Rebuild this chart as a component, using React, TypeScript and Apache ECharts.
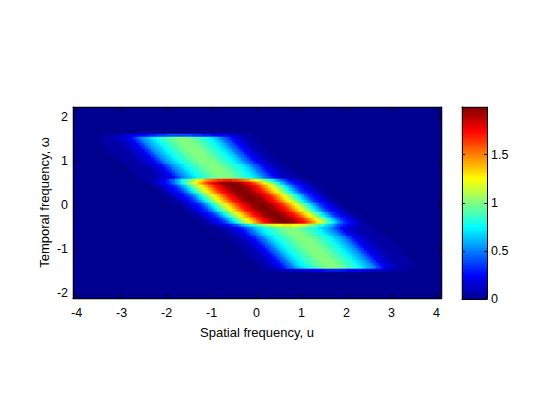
import React, { useEffect, useRef } from "react";
import * as echarts from "echarts";

// Spectrum values. One character per cell: 0-9a-zA-E, in steps of 0.05.
// Blank stretches of a row are written as runs of "0".
const LEVEL_CHARS = "0123456789abcdefghijklmnopqrstuvwxyzABCDE";
const LEVEL_STEP = 0.05;
const COLUMN_COUNT = 123;
const z = (n: number) => "0".repeat(n);
const spectrumRows = [
  "", "", "", "", "", "", "", "", "",
  z(10) + "1111222334445556667778888888887776665554443322211100000",
  z(8) + "11111122334578abcdefghhijjkkkkkjjihhgfedca9865432211100000",
  z(9) + "11111122334578abcdefghhijjkkkkkjjihhgfedca9865432211100000",
  z(10) + "11111122334578abcdefghhijjkkkkkjjihhgfedca9865432211100000",
  z(11) + "11111122334578abcdefghhijjkkkkkjjihhgfedca9865432211100000",
  z(12) + "11111122334578abcdefghhijjkkkkkjjihhgfedca9865432211100000",
  z(13) + "11111122334578abcdefghhijjkkkkkjjihhgfedca9865432211100000",
  z(14) + "11111122334578abcdefghhijjkkkkkjjihhgfedca9865432211100000",
  z(15) + "11111122334578abcdefghhijjkkkkkjjihhgfedca9865432211100000",
  z(16) + "11111122334578abcdefghhijjkkkkkjjihhgfedca9865432211100000",
  z(18) + "11111122334578abcdefghhijjkkkkkjjihhgfedca9865432211100000",
  z(19) + "11111122334578abcdefghhijjkkkkkjjihhgfedca9865432211100000",
  z(20) + "11111122334578abcdefghhijjkkkkkjjihhgfedca9865432211100000",
  z(21) + "11111122334578abcdefghhijjkkkkkjjihhgfedca9865432211100000",
  z(22) + "11111122334578abcdefghhijjkkkkkjjihhgfedca9865432211100000",
  z(24) + "1123345689bdfhjkmoqrtuvwxxyyyxxwvutrqomkjhfdb986543321100",
  z(25) + "112345679bdfikmoqsuwyzACDDEEEDDCAzywusqomkifdb97654321100",
  z(27) + "112345679bdfikmoqsuwyzACDDEEEDDCAzywusqomkifdb97654321100",
  z(28) + "112345679bdfikmoqsuwyzACDDEEEDDCAzywusqomkifdb97654321100",
  z(29) + "112345679bdfikmoqsuwyzACDDEEEDDCAzywusqomkifdb97654321100",
  z(31) + "112345679bdfikmoqsuwyzACDDEEEDDCAzywusqomkifdb97654321100",
  z(32) + "112345679bdfikmoqsuwyzACDDEEEDDCAzywusqomkifdb97654321100",
  z(33) + "112345679bdfikmoqsuwyzACDDEEEDDCAzywusqomkifdb97654321100",
  z(35) + "112345679bdfikmoqsuwyzACDDEEEDDCAzywusqomkifdb97654321100",
  z(36) + "112345679bdfikmoqsuwyzACDDEEEDDCAzywusqomkifdb97654321100",
  z(37) + "112345679bdfikmoqsuwyzACDDEEEDDCAzywusqomkifdb97654321100",
  z(39) + "112345679bdfikmoqsuwyzACDDEEEDDCAzywusqomkifdb97654321100",
  z(40) + "112345679bdfikmoqsuwyzACDDEEEDDCAzywusqomkifdb97654321100",
  z(42) + "112345679bdfikmoqsuwyzACDDEEEDDCAzywusqomkifdb97654321100",
  z(43) + "112345679bdfikmoqsuwyzACDDEEEDDCAzywusqomkifdb97654321100",
  z(44) + "11123345678acdeghiklmnnpppqqqpppnnmlkihgedca8765433211100",
  z(48) + "11122345689acdefghhijjkkkkkjjihhgfedcba875433221111110",
  z(49) + "11122345689acdefghhijjkkkkkjjihhgfedcba875433221111110",
  z(50) + "11122345689acdefghhijjkkkkkjjihhgfedcba875433221111110",
  z(52) + "11122345689acdefghhijjkkkkkjjihhgfedcba875433221111110",
  z(53) + "11122345689acdefghhijjkkkkkjjihhgfedcba875433221111110",
  z(54) + "11122345689acdefghhijjkkkkkjjihhgfedcba875433221111110",
  z(55) + "11122345689acdefghhijjkkkkkjjihhgfedcba875433221111110",
  z(56) + "11122345689acdefghhijjkkkkkjjihhgfedcba875433221111110",
  z(57) + "11122345689acdefghhijjkkkkkjjihhgfedcba875433221111110",
  z(58) + "11122345689acdefghhijjkkkkkjjihhgfedcba875433221111110",
  z(59) + "11122345689acdefghhijjkkkkkjjihhgfedcba875433221111110",
  z(60) + "11122345689acdefghhijjkkkkkjjihhgfedcba875433221111110",
  z(61) + "11122345689acdefghhijjkkkkkjjihhgfedcba875433221111110",
  z(62) + "11122345689acdefghhijjkkkkkjjihhgfedcba875433221111110",
  z(63) + "111111222333344445555666666655554444333322211111100000",
  "", "", "", "", "", "", "", "", "",
];

const colorbarLevels = [
  0.02, 0.05, 0.08, 0.11, 0.14, 0.17, 0.2, 0.23, 0.27, 0.3, 0.33, 0.36, 0.39, 0.42, 0.45, 0.48,
  0.51, 0.55, 0.58, 0.61, 0.64, 0.67, 0.7, 0.73, 0.76, 0.8, 0.83, 0.86, 0.89, 0.92, 0.95, 0.98,
  1.01, 1.04, 1.08, 1.11, 1.14, 1.17, 1.2, 1.23, 1.26, 1.29, 1.33, 1.36, 1.39, 1.42, 1.45, 1.48,
  1.51, 1.54, 1.57, 1.61, 1.64, 1.67, 1.7, 1.73, 1.76, 1.79, 1.82, 1.86, 1.89, 1.92, 1.95, 1.98,
];

const xTicks = [-4, -3, -2, -1, 0, 1, 2, 3, 4];
const yTicks = [-2, -1, 0, 1, 2];
const colorbarTicks = [0, 0.5, 1, 1.5];
const jetColors = ["#00008f", "#0000ff", "#0080ff", "#00ffff", "#80ff80", "#ffff00", "#ff8000", "#ff0000", "#800000"];
const X_TITLE = "Spatial frequency, u";
const Y_TITLE = "Temporal frequency, \u03c9";

const FONT = "'Liberation Sans', Arial, sans-serif";
const lineStyle = { color: "#000", width: 1 };
const labelStyle = { color: "#000", fontFamily: FONT, fontSize: 12.5 };
const titleStyle = { color: "#000", fontFamily: FONT, fontSize: 13 };

export default function App() {
  const ref = useRef<HTMLDivElement>(null);
  useEffect(() => {
    const chart = echarts.init(ref.current!, undefined, { renderer: "svg" });
    const cells: number[][] = [];
    spectrumRows.forEach((row, r) => {
      const full = row.padEnd(COLUMN_COUNT, "0");
      for (let c = 0; c < COLUMN_COUNT; c++) {
        cells.push([c, r, LEVEL_CHARS.indexOf(full[c]) * LEVEL_STEP]);
      }
    });
    const colIndex = Array.from({ length: COLUMN_COUNT }, (_, i) => String(i));
    const rowIndex = spectrumRows.map((_, i) => String(i));
    const cellRect = { left: 73, top: 107, width: 369, height: 192 };
    const frameRect = { left: 73, top: 107, width: 368, height: 191 };
    const barRect = { left: 462, top: 107, width: 25, height: 192 };
    const hidden = { show: false };
    const frame = { show: true, onZero: false, lineStyle };

    chart.setOption({
      animation: false,
      backgroundColor: "#fff",
      grid: [
        { ...cellRect, containLabel: false },
        { ...frameRect, containLabel: false },
        { ...barRect, containLabel: false },
        { ...barRect, containLabel: false },
      ],
      visualMap: {
        show: false,
        type: "continuous",
        min: 0,
        max: 2,
        dimension: 2,
        seriesIndex: [0, 1],
        inRange: { color: jetColors },
      },
      xAxis: [
        { gridIndex: 0, type: "category", data: colIndex, ...hidden },
        {
          gridIndex: 1, type: "value", min: -4.08, max: 4.1, position: "bottom", z: 5,
          name: X_TITLE, nameLocation: "middle", nameGap: 28,
          nameTextStyle: titleStyle,
          axisLine: frame, splitLine: hidden,
          axisTick: { show: true, inside: true, length: 4, lineStyle, customValues: xTicks },
          axisLabel: { ...labelStyle, margin: 8, customValues: xTicks, formatter: (v: number) => String(v) },
        },
        {
          gridIndex: 1, type: "value", min: -4.08, max: 4.1, position: "top", z: 5,
          axisLine: frame, splitLine: hidden,
          axisTick: { show: true, inside: true, length: 4, lineStyle, customValues: xTicks },
          axisLabel: hidden,
        },
        { gridIndex: 2, type: "category", data: ["0"], ...hidden },
        {
          gridIndex: 3, type: "value", min: 0, max: 1, position: "bottom", z: 5,
          axisLine: frame, splitLine: hidden, axisTick: hidden, axisLabel: hidden,
        },
        {
          gridIndex: 3, type: "value", min: 0, max: 1, position: "top", z: 5,
          axisLine: frame, splitLine: hidden, axisTick: hidden, axisLabel: hidden,
        },
      ],
      yAxis: [
        { gridIndex: 0, type: "category", inverse: true, data: rowIndex, ...hidden },
        {
          gridIndex: 1, type: "value", min: -2.114, max: 2.227, position: "left", z: 5,
          name: Y_TITLE, nameLocation: "middle", nameGap: 22, nameRotate: 90, nameMoveOverlap: false,
          nameTextStyle: titleStyle,
          axisLine: frame, splitLine: hidden,
          axisTick: { show: true, inside: true, length: 4, lineStyle, customValues: yTicks },
          axisLabel: { ...labelStyle, margin: 5, customValues: yTicks, formatter: (v: number) => String(v) },
        },
        {
          gridIndex: 1, type: "value", min: -2.114, max: 2.227, position: "right", z: 5,
          axisLine: frame, splitLine: hidden,
          axisTick: { show: true, inside: true, length: 4, lineStyle, customValues: yTicks },
          axisLabel: hidden,
        },
        { gridIndex: 2, type: "category", data: colorbarLevels.map((_, i) => String(i)), ...hidden },
        {
          gridIndex: 3, type: "value", min: 0, max: 1.995, position: "right", z: 5,
          axisLine: frame, splitLine: hidden,
          axisTick: { show: true, inside: true, length: 3, lineStyle, customValues: colorbarTicks },
          axisLabel: { ...labelStyle, margin: 4, customValues: colorbarTicks, formatter: (v: number) => String(v) },
        },
        {
          gridIndex: 3, type: "value", min: 0, max: 1.995, position: "left", z: 5,
          axisLine: frame, splitLine: hidden,
          axisTick: { show: true, inside: true, length: 3, lineStyle, customValues: colorbarTicks },
          axisLabel: hidden,
        },
      ],
      series: [
        {
          type: "heatmap", xAxisIndex: 0, yAxisIndex: 0, data: cells,
          progressive: 0, silent: true, emphasis: { disabled: true },
        },
        {
          type: "heatmap", xAxisIndex: 3, yAxisIndex: 3,
          data: colorbarLevels.map((v, i) => [0, i, v]),
          progressive: 0, silent: true, emphasis: { disabled: true },
        },
      ],
    });
    return () => chart.dispose();
  }, []);
  return <div ref={ref} style={{ position: "absolute", left: 0, top: 0, width: 560, height: 420 }} />;
}
